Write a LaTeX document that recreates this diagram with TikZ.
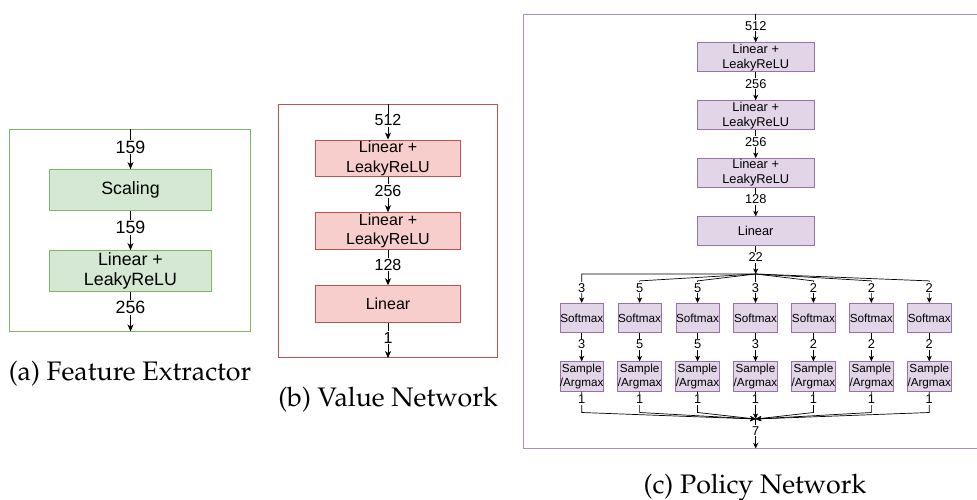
\documentclass[tikz,border=0pt]{standalone}
\usepackage{fontspec}
\setmainfont{Liberation Sans}
\usepackage[T1,TU]{fontenc}
\usetikzlibrary{arrows.meta}
\definecolor{gfill}{HTML}{D5E8D4}
\definecolor{gline}{HTML}{82B366}
\definecolor{rfill}{HTML}{F8CECC}
\definecolor{rline}{HTML}{B85450}
\definecolor{pfill}{HTML}{E1D5E7}
\definecolor{pline}{HTML}{9673A6}
\newcommand\capfont{\fontencoding{T1}\fontfamily{ppl}\selectfont\fontsize{26.8}{32}\selectfont}
\newcommand\fsA{\fontsize{17.8}{20.5}\selectfont}
\newcommand\fsB{\fontsize{16}{19.2}\selectfont}
\newcommand\fsC{\fontsize{12.8}{15}\selectfont}
\newcommand\fsD{\fontsize{11.7}{14.5}\selectfont}
\begin{document}
\begin{tikzpicture}[x=1pt,y=-1pt,
	box/.style={draw,inner sep=0pt,align=center,line width=.8pt},
	frame/.style={draw,inner sep=0pt,line width=.8pt},
	boxa/.style={box,draw=gline,fill=gfill,minimum width=161.7pt,minimum height=41pt,font=\fsA},
	boxb/.style={box,draw=rline,fill=rfill,minimum width=145.7pt,minimum height=36.7pt,font=\fsB},
	boxc/.style={box,draw=pline,fill=pfill,minimum width=116.7pt,minimum height=29pt,font=\fsC},
	boxs/.style={box,draw=pline,fill=pfill,minimum width=43.3pt,minimum height=29.4pt,font=\fsD},
	lbl/.style={fill=white,inner sep=1pt},
	arr/.style={-{Stealth[length=7pt,width=6pt,inset=2pt]},line width=.8pt},
	arrs/.style={-{Stealth[length=5.5pt,width=5pt,inset=1.5pt]},line width=.7pt},
	captext/.style={font=\capfont}]
	\useasboundingbox (0,0) rectangle (977,500);
	% (a) feature extractor
	\node[frame,draw=gline,minimum width=241.4pt,minimum height=201.7pt] (fa) at (130,230.2){};
	\node[boxa] (scale) at (130.5,190){Scaling};
	\node[boxa] (fea) at (130.5,271){Linear +\\LeakyReLU};
	\draw[arr] (scale.north |- fa.north)--node[lbl,font=\fsA,pos=.45]{159}(scale);
	\draw[arr] (scale)--node[lbl,font=\fsA,pos=.42]{159}(fea);
	\draw[arr] (fea)--node[lbl,font=\fsA,pos=.4]{256}(fea.south |- fa.south);
	\node[captext] (capa) at (130,374){(a) Feature Extractor};
	% (b) value network
	\node[frame,draw=rline,minimum width=219.4pt,minimum height=253.7pt] (fb) at (388,230.8){};
	\node[boxb] (v1) at (388,158.3){Linear +\\LeakyReLU};
	\node[boxb] (v2) at (388,231){Linear +\\LeakyReLU};
	\node[boxb] (v3) at (388,304){Linear};
	\draw[arr] (v1.north |- fb.north)--node[lbl,font=\fsB,pos=.47]{512}(v1);
	\draw[arr] (v1)--node[lbl,font=\fsB,pos=.4]{256}(v2);
	\draw[arr] (v2)--node[lbl,font=\fsB,pos=.42]{128}(v3);
	\draw[arr] (v3)--node[lbl,font=\fsB,pos=.42]{1}(v3.south |- fb.south);
	\node[captext] (capb) at (388,400){(b) Value Network};
	% (c) policy network
	\node[frame,draw=pline!80,minimum width=453.7pt,minimum height=434pt] (fc) at (750.2,231){};
	\node[boxc] (p1) at (755.7,57.2){Linear +\\LeakyReLU};
	\node[boxc] (p2) at (755.7,115.2){Linear +\\LeakyReLU};
	\node[boxc] (p3) at (755.7,173){Linear +\\LeakyReLU};
	\node[boxc] (p4) at (755.7,231.2){Linear};
	\coordinate (split) at (755.7,274);
	\coordinate (merge) at (755.7,419);
	\draw[arrs] (p1.north |- fc.north)--node[lbl,font=\fsC,pos=.42]{512}(p1);
	\draw[arrs] (p1)--node[lbl,font=\fsC,pos=.42]{256}(p2);
	\draw[arrs] (p2)--node[lbl,font=\fsC,pos=.42]{256}(p3);
	\draw[arrs] (p3)--node[lbl,font=\fsC,pos=.4]{128}(p4);
	\draw[arrs] (p4)--node[lbl,font=\fsC,pos=.4]{22}(split);
	\foreach \i/\n/\dy in {1/3/29,2/5/22,3/5/22,4/3/29,5/2/22,6/2/22,7/2/22}{
		\node[boxs] (sm\i) at (581.7+57.93*\i-57.93,318){Softmax};
		\node[boxs] (sa\i) at (581.7+57.93*\i-57.93,376.4){Sample\\/Argmax};
		\draw[arrs] (split)--([yshift=\dy pt]sm\i.north)--(sm\i.north);
		\node[lbl,font=\fsC] (top\i) at ([yshift=15pt]sm\i.north){\n};
		\draw[arrs] (sm\i)--node[lbl,font=\fsC,pos=.4]{\n}(sa\i);
		\draw[arrs] (sa\i.south)--([yshift=-21pt]sa\i.south)--(merge);
		\node[lbl,font=\fsC] (one\i) at ([yshift=-8pt]sa\i.south){1};
	}
	\draw[arrs] (merge)--node[lbl,font=\fsC,pos=.4]{7}(merge |- fc.south);
	\node[captext] (capc) at (755,488){(c) Policy Network};
\end{tikzpicture}
\end{document}
